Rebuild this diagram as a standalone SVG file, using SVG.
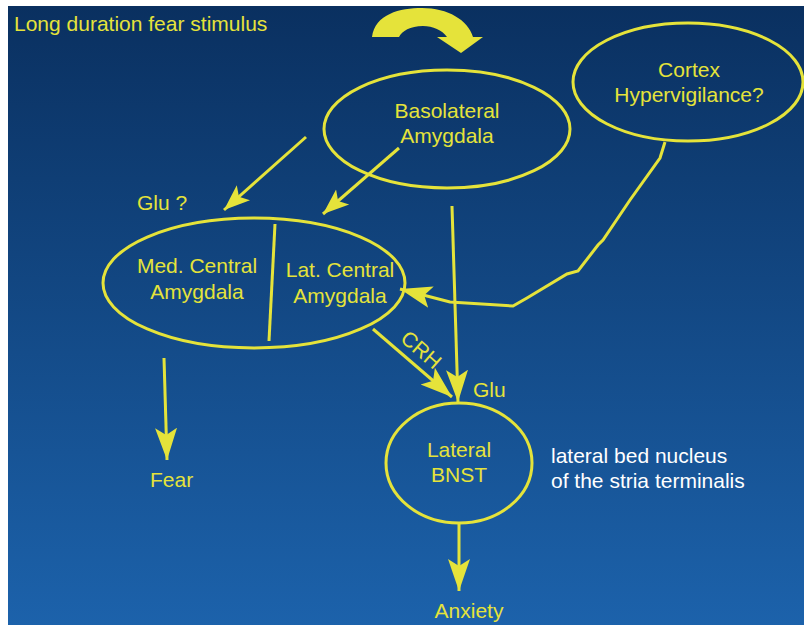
<svg xmlns="http://www.w3.org/2000/svg" width="804" height="625" viewBox="0 0 804 625">
  <defs>
    <linearGradient id="bg" x1="0" y1="0" x2="0" y2="1">
      <stop offset="0" stop-color="#0a3060"/>
      <stop offset="1" stop-color="#1c62ab"/>
    </linearGradient>
    <marker id="head" markerUnits="userSpaceOnUse" viewBox="-32 -12 33 24" refX="0" refY="0" markerWidth="33" markerHeight="24" orient="auto">
      <path d="M0,0 L-32,-11 L-25,0 L-32,11 Z" fill="#e5e33a"/>
    </marker>
    <marker id="headS" markerUnits="userSpaceOnUse" viewBox="-26 -11 27 22" refX="0" refY="0" markerWidth="27" markerHeight="22" orient="auto">
      <path d="M0,0 L-26,-10 L-20,0 L-26,10 Z" fill="#e5e33a"/>
    </marker>
  </defs>
  <style>
    .node { fill: none; stroke: #e5e33a; stroke-width: 3; }
    .edge { fill: none; stroke: #e5e33a; stroke-width: 3; }
    .lbl { font-family: "Liberation Sans", Arial, sans-serif; font-size: 21px; fill: #e5e33a; }
    .mid { text-anchor: middle; }
    .note { font-family: "Liberation Sans", Arial, sans-serif; font-size: 21px; fill: #ffffff; }
  </style>

  <!-- page and background -->
  <rect x="0" y="0" width="804" height="625" fill="#ffffff"/>
  <rect x="8" y="6" width="796" height="619" fill="url(#bg)"/>

  <text class="lbl" x="14" y="31">Long duration fear stimulus</text>

  <!-- circular stimulus arrow -->
  <path d="M372,37 C375,14 400,8 422,8 C448,8 468,20 473,37 L483,37 L461,53 L437,37 L447,37 C442,30 433,26 423,26 C410,26 402,31 399,37 Z" fill="#e5e33a"/>

  <g id="basolateral">
    <ellipse class="node" cx="447" cy="129" rx="123" ry="59"/>
    <text class="lbl mid" x="447" y="118">Basolateral</text>
    <text class="lbl mid" x="447" y="143">Amygdala</text>
  </g>

  <g id="cortex">
    <ellipse class="node" cx="688" cy="82" rx="115" ry="59"/>
    <text class="lbl mid" x="689" y="77">Cortex</text>
    <text class="lbl mid" x="689" y="102">Hypervigilance?</text>
  </g>

  <g id="central-amygdala">
    <ellipse class="node" cx="254" cy="283" rx="151" ry="65"/>
    <line class="node" x1="275" y1="224" x2="269" y2="341"/>
    <text class="lbl mid" x="197" y="273">Med. Central</text>
    <text class="lbl mid" x="197" y="299">Amygdala</text>
    <text class="lbl mid" x="340" y="277">Lat. Central</text>
    <text class="lbl mid" x="340" y="303">Amygdala</text>
  </g>

  <g id="bnst">
    <ellipse class="node" cx="459" cy="463" rx="73" ry="60"/>
    <text class="lbl mid" x="459" y="457">Lateral</text>
    <text class="lbl mid" x="459" y="482">BNST</text>
  </g>

  <g id="fear">
    <text class="lbl" x="150" y="487">Fear</text>
  </g>

  <g id="anxiety">
    <text class="lbl mid" x="469" y="618">Anxiety</text>
  </g>

  <g id="labels">
    <text class="lbl" x="137" y="210">Glu ?</text>
    <text class="lbl" x="473" y="397">Glu</text>
    <text class="lbl mid" x="421" y="357" font-size="20" transform="rotate(41 421 350)">CRH</text>
    <text class="note" x="551" y="463">lateral bed nucleus</text>
    <text class="note" x="551" y="488">of the stria terminalis</text>
  </g>

  <g id="connectors">
    <line class="edge" x1="306" y1="137" x2="224" y2="210" marker-end="url(#headS)"/>
    <line class="edge" x1="399" y1="148" x2="323" y2="214" marker-end="url(#headS)"/>
    <line class="edge" x1="452" y1="206" x2="458" y2="402" marker-end="url(#head)"/>
    <line class="edge" x1="373" y1="329" x2="452" y2="397" marker-end="url(#head)"/>
    <polyline class="edge" points="665,142 660,158 630,200 603,240 598,245 578,271 567,274 527,298 513,306 450,302 400,289" marker-end="url(#head)"/>
    <line class="edge" x1="164" y1="358" x2="167" y2="460" marker-end="url(#head)"/>
    <line class="edge" x1="459" y1="523" x2="459" y2="591" marker-end="url(#head)"/>
  </g>
</svg>
